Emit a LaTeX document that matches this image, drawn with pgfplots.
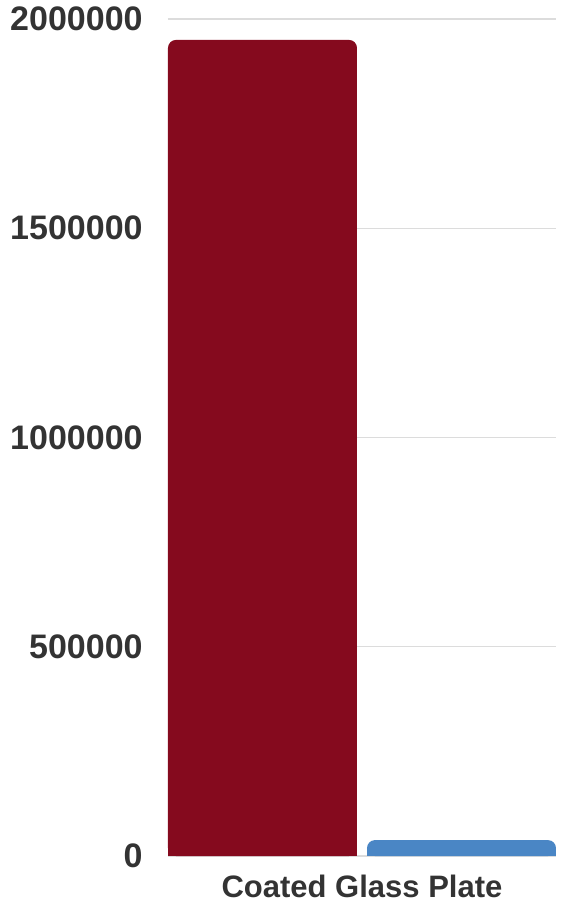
\documentclass[border=0pt]{standalone}
\usepackage{pgfplots}
\pgfplotsset{compat=1.18}
\usepackage{pgfplotstable}
\usepackage{fontspec}
\setmainfont{Liberation Sans}
\definecolor{barred}{HTML}{850A1E}
\definecolor{barblue}{HTML}{4A86C5}
\definecolor{labelgray}{HTML}{333333}
\definecolor{gridgray}{HTML}{DCDCDC}

\pgfplotstableread{
x y
0 1950000
}\redbar
\pgfplotstableread{
x y
0 38000
}\bluebar

\begin{document}
\begin{tikzpicture}
\begin{axis}[
    scale only axis,
    width=194pt, height=418.5pt,
    xmin=-1, xmax=1,
    ymin=0, ymax=2000000,
    scaled y ticks=false,
    ytick={0,500000,1000000,1500000,2000000},
    yticklabels={0,500000,1000000,1500000,2000000},
    yticklabel style={font=\fontsize{17}{19}\selectfont\bfseries, text=labelgray, anchor=east, inner sep=0pt, xshift=-12.5pt},
    xtick={0}, xticklabels={Coated Glass Plate},
    xticklabel style={font=\fontsize{15.5}{18}\selectfont\bfseries, text=labelgray, anchor=north, inner sep=0pt, yshift=-9.5pt},
    major tick length=0pt,
    axis line style={draw=none},
    ymajorgrids,
    grid style={gridgray, line width=0.6pt},
    bar width=94.5pt,
    clip=false,
]
\addplot[ybar, bar shift=-49.75pt, fill=barred, draw=none, rounded corners=4pt] table[x=x,y=y] {\redbar};
\addplot[ybar, bar shift=-49.75pt, fill=barred, draw=none, y filter/.expression={min(y,19000)}] table[x=x,y=y] {\redbar};
\addplot[ybar, bar shift=49.75pt, fill=barblue, draw=none, rounded corners=4pt] table[x=x,y=y] {\bluebar};
\addplot[ybar, bar shift=49.75pt, fill=barblue, draw=none, y filter/.expression={min(y,19000)}] table[x=x,y=y] {\bluebar};
\end{axis}
\path ([xshift=-84pt,yshift=-28pt]current axis.south west) rectangle ([xshift=5.5pt,yshift=9.5pt]current axis.north east);
\end{tikzpicture}
\end{document}
